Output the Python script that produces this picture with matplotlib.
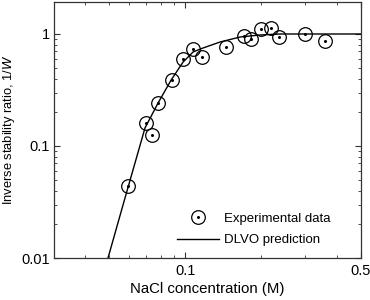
import matplotlib
matplotlib.use("Agg")
import matplotlib.pyplot as plt
from matplotlib.ticker import LogLocator, NullFormatter, FixedLocator, FixedFormatter

plt.rcParams['font.family'] = ['Liberation Sans', 'DejaVu Sans']

nacl = [0.0595, 0.0698, 0.0741, 0.0783, 0.0885, 0.0985, 0.108, 0.117,
        0.146, 0.171, 0.182, 0.200, 0.219, 0.237, 0.300, 0.360]
inv_w = [0.044, 0.161, 0.125, 0.240, 0.388, 0.594, 0.73, 0.62,
         0.77, 0.966, 0.90, 1.11, 1.12, 0.946, 1.01, 0.866]

# DLVO prediction curve
dlvo_x = [0.0494, 0.0577, 0.0693, 0.0781, 0.088, 0.0982, 0.1076, 0.1179,
          0.1377, 0.1655, 0.1987, 0.2385, 0.5]
dlvo_y = [0.01, 0.0343, 0.145, 0.242, 0.388, 0.562, 0.691, 0.75,
          0.848, 0.94, 0.98, 1.0, 1.0]

fig = plt.figure(figsize=(3.7, 3.0), dpi=100)
ax = fig.add_axes([0.1446, 0.14, 0.831, 0.8533])

line, = ax.plot(dlvo_x, dlvo_y, color='black', lw=1.0)
circ, = ax.plot(nacl, inv_w, ls='none', marker='o', ms=9.8, mfc='none',
                mec='black', mew=0.9)
dot, = ax.plot(nacl, inv_w, ls='none', marker='o', ms=1.2, color='black')

ax.set_xscale('log')
ax.set_yscale('log')
ax.set_xlim(0.03, 0.5)
ax.set_ylim(0.01, 1.93)

ax.xaxis.set_major_locator(FixedLocator([0.1, 0.5]))
ax.xaxis.set_major_formatter(FixedFormatter(['0.1', '0.5']))
ax.xaxis.set_minor_locator(LogLocator(base=10, subs=range(2, 10)))
ax.xaxis.set_minor_formatter(NullFormatter())

ax.yaxis.set_major_locator(FixedLocator([0.01, 0.1, 1]))
ax.yaxis.set_major_formatter(FixedFormatter(['0.01', '0.1', '1']))
ax.yaxis.set_minor_locator(LogLocator(base=10, subs=range(2, 10)))
ax.yaxis.set_minor_formatter(NullFormatter())

ax.tick_params(which='both', direction='in', top=True, right=True,
               labelsize=10.5, color='#333333')
ax.tick_params(which='major', length=4, width=0.8)
ax.tick_params(axis='y', which='major', pad=2.5)
ax.tick_params(axis='x', which='major', pad=4)
ax.tick_params(which='minor', length=2.5, width=0.6)
for s in ax.spines.values():
    s.set_linewidth(0.9)
    s.set_color('#333333')

ax.set_xlabel('NaCl concentration (M)', fontsize=10.8, labelpad=3)
ax.set_ylabel('Inverse stability ratio, 1/$\\it{W}$', fontsize=9.3, labelpad=3)

ax.legend([(circ, dot), line], ['Experimental data', 'DLVO prediction'],
          loc='lower right', bbox_to_anchor=(0.94, 0.0), frameon=False,
          fontsize=9.5, handlelength=3.2, handletextpad=0.4, labelspacing=0.7)

fig.savefig('out.png', dpi=100)
